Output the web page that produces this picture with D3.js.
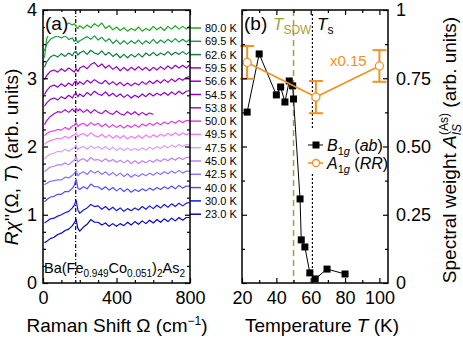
<!DOCTYPE html>
<html>
<head>
<meta charset="utf-8">
<script src="https://cdn.jsdelivr.net/npm/d3@7"></script>
<style>
body { margin: 0; background: #fff; }
svg text { font-family: "Liberation Sans", Arial, Helvetica, sans-serif; }
</style>
</head>
<body>
<div id="chart"></div>
<script>
var shifts = [8, 20, 40, 60, 80, 100, 120, 140, 160, 170, 180, 190, 200, 220, 240, 260, 280, 300, 320, 340, 360, 380,
    400, 420, 440, 460, 480, 500, 520, 540, 560, 580, 600, 620, 640, 660, 680, 700, 720, 740, 760, 780, 800];

var tempLabels = ['80.0 K', '69.5 K', '62.6 K', '59.5 K', '56.6 K', '54.5 K', '53.8 K', '50.0 K',
    '49.5 K', '47.5 K', '45.0 K', '42.5 K', '40.0 K', '30.0 K', '23.0 K'];
var specColors = ['#22a622', '#179a44', '#0d7d3d', '#9600ca', '#9400cc', '#8e00c6', '#a40cd0', '#e03ee6',
    '#f47af4', '#d6a0f8', '#bb80f0', '#8474fc', '#4e4efa', '#1616e0', '#0606c2'];

var spec80 = [3.30, 3.58, 3.70, 3.74, 3.78, 3.80, 3.77, 3.81, 3.78, 3.80, 3.76, 3.73, 3.77, 3.73, 3.78, 3.74, 3.80, 3.76, 3.81, 3.73, 3.77, 3.71,
    3.75, 3.70, 3.74, 3.69, 3.73, 3.70, 3.75, 3.69, 3.73, 3.70, 3.76, 3.71, 3.75, 3.70, 3.76, 3.72, 3.77, 3.72, 3.76, 3.72, 3.77];
var spec69 = [3.40, 3.50, 3.57, 3.60, 3.62, 3.59, 3.62, 3.57, 3.59, 3.54, 3.57, 3.52, 3.55, 3.58, 3.61, 3.57, 3.62, 3.56, 3.60, 3.54, 3.58, 3.51,
    3.56, 3.50, 3.55, 3.50, 3.55, 3.51, 3.56, 3.50, 3.55, 3.51, 3.57, 3.51, 3.56, 3.52, 3.57, 3.53, 3.58, 3.53, 3.57, 3.53, 3.57];
var spec62 = [3.16, 3.24, 3.31, 3.34, 3.31, 3.36, 3.32, 3.37, 3.33, 3.38, 3.39, 3.34, 3.37, 3.40, 3.35, 3.41, 3.37, 3.35, 3.40, 3.34, 3.38, 3.32,
    3.36, 3.30, 3.35, 3.30, 3.35, 3.31, 3.36, 3.31, 3.37, 3.33, 3.38, 3.33, 3.37, 3.34, 3.39, 3.34, 3.38, 3.35, 3.39, 3.35, 3.39];
var spec59 = [2.98, 3.04, 3.10, 3.12, 3.09, 3.14, 3.10, 3.15, 3.11, 3.09, 3.14, 3.10, 3.15, 3.18, 3.14, 3.20, 3.23, 3.17, 3.21, 3.15, 3.19, 3.13,
    3.17, 3.11, 3.16, 3.11, 3.16, 3.12, 3.17, 3.12, 3.16, 3.11, 3.16, 3.12, 3.17, 3.13, 3.18, 3.14, 3.19, 3.15, 3.19, 3.15, 3.20];
var spec56 = [2.76, 2.82, 2.88, 2.90, 2.87, 2.92, 2.88, 2.93, 2.89, 2.94, 2.96, 2.91, 2.95, 2.91, 2.97, 2.93, 2.98, 2.94, 2.92, 2.97, 2.91, 2.95,
    2.90, 2.94, 2.89, 2.93, 2.89, 2.93, 2.90, 2.95, 2.91, 2.96, 2.92, 2.97, 2.93, 2.98, 2.94, 2.99, 2.95, 3.00, 2.97, 3.01, 3.03];
var spec54 = [2.59, 2.64, 2.69, 2.71, 2.68, 2.73, 2.70, 2.75, 2.71, 2.76, 2.78, 2.73, 2.77, 2.73, 2.79, 2.75, 2.81, 2.77, 2.75, 2.80, 2.74, 2.78,
    2.73, 2.77, 2.72, 2.76, 2.71, 2.75, 2.72, 2.77, 2.73, 2.78, 2.74, 2.78, 2.75, 2.79, 2.75, 2.80, 2.76, 2.81, 2.77, 2.81, 2.82];
var spec53 = [2.32, 2.38, 2.44, 2.48, 2.51, 2.50, 2.54, 2.50, 2.55, 2.51, 2.56, 2.52, 2.55, 2.50, 2.54, 2.49, 2.54, 2.50, 2.48, 2.53, 2.49, 2.47,
    2.52, 2.48, 2.46, 2.51, 2.47, 2.51, 2.46, 2.50, 2.46, 2.49, 2.47];
var spec50 = [2.16, 2.19, 2.22, 2.23, 2.25, 2.24, 2.28, 2.25, 2.30, 2.31, 2.35, 2.29, 2.32, 2.34, 2.30, 2.35, 2.31, 2.34, 2.29, 2.33, 2.28, 2.32,
    2.28, 2.31, 2.27, 2.31, 2.28, 2.32, 2.28, 2.33, 2.30, 2.34, 2.31, 2.35, 2.32, 2.36, 2.33, 2.37, 2.34, 2.38, 2.35, 2.38, 2.38];
var spec49 = [2.03, 2.06, 2.09, 2.10, 2.12, 2.11, 2.15, 2.12, 2.16, 2.17, 2.20, 2.14, 2.17, 2.19, 2.15, 2.20, 2.16, 2.14, 2.18, 2.13, 2.17, 2.12,
    2.16, 2.12, 2.16, 2.11, 2.15, 2.12, 2.16, 2.12, 2.17, 2.13, 2.17, 2.14, 2.18, 2.15, 2.19, 2.16, 2.20, 2.16, 2.20, 2.17, 2.20];
var spec47 = [1.81, 1.85, 1.89, 1.90, 1.93, 1.92, 1.96, 1.93, 1.97, 1.98, 2.02, 1.95, 1.98, 2.00, 1.96, 2.01, 1.97, 2.00, 1.96, 2.00, 1.95, 1.99,
    1.94, 1.98, 1.94, 1.98, 1.94, 1.97, 1.94, 1.98, 1.95, 1.99, 1.96, 2.00, 1.97, 2.01, 1.98, 2.02, 1.99, 2.03, 2.00, 2.03, 2.02];
var spec45 = [1.63, 1.66, 1.70, 1.71, 1.73, 1.73, 1.76, 1.73, 1.78, 1.80, 1.85, 1.77, 1.80, 1.82, 1.78, 1.84, 1.80, 1.81, 1.78, 1.82, 1.78, 1.81,
    1.77, 1.80, 1.76, 1.80, 1.75, 1.79, 1.75, 1.79, 1.76, 1.80, 1.77, 1.81, 1.78, 1.82, 1.79, 1.83, 1.80, 1.84, 1.81, 1.84, 1.84];
var spec42 = [1.44, 1.46, 1.49, 1.50, 1.51, 1.51, 1.55, 1.54, 1.58, 1.60, 1.65, 1.57, 1.60, 1.63, 1.59, 1.65, 1.61, 1.64, 1.59, 1.63, 1.58, 1.62,
    1.57, 1.61, 1.56, 1.60, 1.55, 1.59, 1.56, 1.60, 1.57, 1.61, 1.58, 1.62, 1.59, 1.63, 1.60, 1.64, 1.61, 1.65, 1.61, 1.64, 1.64];
var spec40 = [1.19, 1.22, 1.26, 1.27, 1.30, 1.30, 1.34, 1.34, 1.39, 1.43, 1.52, 1.39, 1.37, 1.41, 1.38, 1.45, 1.41, 1.41, 1.37, 1.41, 1.36, 1.40,
    1.35, 1.39, 1.34, 1.38, 1.33, 1.37, 1.34, 1.38, 1.35, 1.39, 1.36, 1.40, 1.37, 1.41, 1.38, 1.42, 1.38, 1.43, 1.39, 1.42, 1.42];
var spec30 = [0.88, 0.90, 0.94, 0.95, 0.98, 1.00, 1.03, 1.05, 1.10, 1.14, 1.21, 1.07, 1.02, 1.07, 1.10, 1.15, 1.12, 1.13, 1.08, 1.12, 1.07, 1.11,
    1.06, 1.10, 1.05, 1.09, 1.06, 1.10, 1.07, 1.12, 1.08, 1.13, 1.09, 1.14, 1.10, 1.15, 1.11, 1.16, 1.12, 1.17, 1.13, 1.17, 1.18];
var spec23 = [0.59, 0.61, 0.65, 0.67, 0.71, 0.73, 0.77, 0.79, 0.84, 0.88, 0.93, 0.80, 0.76, 0.82, 0.86, 0.93, 0.89, 0.89, 0.85, 0.88, 0.83, 0.87,
    0.83, 0.87, 0.84, 0.89, 0.85, 0.90, 0.86, 0.91, 0.87, 0.92, 0.88, 0.93, 0.89, 0.94, 0.90, 0.95, 0.91, 0.96, 0.92, 0.96, 0.96];
var spectra = [spec80, spec69, spec62, spec59, spec56, spec54, spec53, spec50, spec49, spec47, spec45, spec42, spec40, spec30, spec23];

// panel (b)
var b1gTemps = [23, 30, 40, 42.5, 45, 47.5, 49.5, 50, 53.8, 54.5, 56.6, 59.5, 62.6, 69.5, 80];
var b1gWeight = [0.626, 0.839, 0.689, 0.718, 0.663, 0.740, 0.722, 0.674, 0.308, 0.158, 0.132, 0.037, 0.015, 0.051, 0.033];
var a1gTemps = [23, 63, 100];
var a1gWeight = [0.808, 0.681, 0.795];
var a1gErr = [0.060, 0.059, 0.058];

var ramanTicks = [0, 400, 800];
var ramanMinor = [100, 200, 300, 500, 600, 700];
var chiTicks = [0, 1, 2, 3, 4];
var chiMinor = [0.25, 0.5, 0.75, 1.25, 1.5, 1.75, 2.25, 2.5, 2.75, 3.25, 3.5, 3.75];
var tempTicks = [20, 40, 60, 80, 100];
var tempMinor = [30, 50, 70, 90];
var weightTicks = [0, 0.25, 0.5, 0.75, 1];
var weightLabels = ['0', '0.25', '0.50', '0.75', '1'];
var weightMinor = [0.125, 0.375, 0.625, 0.875];

var phononShift = 178;
var tSDW = 50;
var tS = 61;

var w = 463, h = 338;
var orange = '#f39221';
var olive = '#a3a23a';

var svg = d3.select('#chart').append('svg').attr('width', w).attr('height', h);

var xA = d3.scaleLinear().domain([0, 800]).range([43, 190]);
var yA = d3.scaleLinear().domain([0, 4]).range([283, 10]);
var xB = d3.scaleLinear().domain([20, 105]).range([242, 388]);
var yB = d3.scaleLinear().domain([0, 1]).range([283, 10]);

function addAxis(axis, tr, size) {
    var g = svg.append('g').attr('transform', tr).call(axis);
    g.select('.domain').remove();
    g.selectAll('line').attr('stroke', '#000').attr('stroke-width', 1.2);
    g.attr('font-size', size || 18).attr('font-family', '"Liberation Sans", Arial, sans-serif');
    g.selectAll('text').attr('fill', '#000');
    return g;
}

// rich text: parts = [{t, i, s (font size), dy, dx}]
function rich(parent, x, y, parts, opts) {
    opts = opts || {};
    var t = parent.append('text')
        .attr('transform', 'translate(' + x + ',' + y + ')' + (opts.rotate ? ' rotate(' + opts.rotate + ')' : ''))
        .attr('font-size', opts.size || 18)
        .attr('fill', opts.fill || '#000')
        .attr('text-anchor', opts.anchor || 'start');
    parts.forEach(function (p) {
        var s = t.append('tspan').text(p.t);
        if (p.i) s.attr('font-style', 'italic');
        if (p.s) s.attr('font-size', p.s);
        if (p.dy) s.attr('dy', p.dy);
        if (p.dx) s.attr('dx', p.dx);
    });
    return t;
}

// ---------- panel (a) ----------
var line = d3.line()
    .x(function (d, i) { return xA(shifts[i]); })
    .y(function (d) { return yA(d); });

svg.append('line')
    .attr('x1', xA(phononShift)).attr('x2', xA(phononShift))
    .attr('y1', yA(4)).attr('y2', yA(0))
    .attr('stroke', '#000').attr('stroke-width', 1.2)
    .attr('stroke-dasharray', '4,2,1,2');

svg.selectAll('path.spec')
    .data(spectra)
    .enter()
    .append('path')
        .attr('class', 'spec')
        .attr('d', line)
        .attr('fill', 'none')
        .attr('stroke', function (d, i) { return specColors[i]; })
        .attr('stroke-width', 1.2)
        .attr('stroke-linejoin', 'round');

// label lines and texts at the right of panel (a)
var labelTop = 28, labelStep = 13.3;
svg.selectAll('line.lab')
    .data(tempLabels)
    .enter()
    .append('line')
        .attr('class', 'lab')
        .attr('x1', 190).attr('x2', 201)
        .attr('y1', function (d, i) { return labelTop + i * labelStep; })
        .attr('y2', function (d, i) { return labelTop + i * labelStep; })
        .attr('stroke', function (d, i) { return specColors[i]; })
        .attr('stroke-width', 1.5);
svg.selectAll('text.lab')
    .data(tempLabels)
    .enter()
    .append('text')
        .attr('class', 'lab')
        .attr('x', 205)
        .attr('y', function (d, i) { return labelTop + i * labelStep + 4; })
        .attr('font-size', 11)
        .text(function (d) { return d; });

addAxis(d3.axisBottom(xA).tickValues(ramanTicks).tickSize(-5).tickPadding(8).tickFormat(d3.format('d')), 'translate(0,283)');
addAxis(d3.axisBottom(xA).tickValues(ramanMinor).tickSize(-3).tickFormat(''), 'translate(0,283)');
addAxis(d3.axisTop(xA).tickValues(ramanTicks).tickSize(-5).tickFormat(''), 'translate(0,10)');
addAxis(d3.axisTop(xA).tickValues(ramanMinor).tickSize(-3).tickFormat(''), 'translate(0,10)');
addAxis(d3.axisLeft(yA).tickValues(chiTicks).tickSize(-5).tickPadding(6).tickFormat(d3.format('d')), 'translate(43,0)');
addAxis(d3.axisLeft(yA).tickValues(chiMinor).tickSize(-3).tickFormat(''), 'translate(43,0)');
addAxis(d3.axisRight(yA).tickValues(chiTicks).tickSize(-5).tickFormat(''), 'translate(190,0)');
addAxis(d3.axisRight(yA).tickValues(chiMinor).tickSize(-3).tickFormat(''), 'translate(190,0)');

svg.append('rect').attr('x', 43).attr('y', 10).attr('width', 147).attr('height', 273)
    .attr('fill', 'none').attr('stroke', '#000').attr('stroke-width', 1.5);

svg.append('rect').attr('x', 45).attr('y', 12).attr('width', 22).attr('height', 24).attr('fill', '#fff');
svg.append('text').attr('x', 45).attr('y', 30).attr('font-size', 19).text('(a)');

rich(svg, 44, 273, [
    {t: 'Ba(Fe'}, {t: '0.949', s: 10, dy: 4}, {t: 'Co', dy: -4}, {t: '0.051', s: 10, dy: 4},
    {t: ')', dy: -4}, {t: '2', s: 10, dy: 4}, {t: 'As', dy: -4}, {t: '2', s: 10, dy: 4}
], {size: 14.5});

rich(svg, 117, 332, [
    {t: 'Raman Shift Ω (cm'}, {t: '−1', s: 12, dy: -7}, {t: ')', dy: 7}
], {size: 19, anchor: 'middle'});

rich(svg, 18, 157, [
    {t: 'Rχ', i: 1}, {t: "''(Ω, "}, {t: 'T', i: 1}, {t: ') (arb. units)'}
], {size: 19, anchor: 'middle', rotate: -90});

// ---------- panel (b) ----------
svg.append('line')
    .attr('x1', xB(tSDW)).attr('x2', xB(tSDW)).attr('y1', yB(1)).attr('y2', yB(0))
    .attr('stroke', olive).attr('stroke-width', 1.5).attr('stroke-dasharray', '6,4');
svg.append('line')
    .attr('x1', xB(tS)).attr('x2', xB(tS)).attr('y1', 14).attr('y2', yB(0))
    .attr('stroke', '#000').attr('stroke-width', 1.2).attr('stroke-dasharray', '2,2');

var bLine = d3.line().x(function (d, i) { return xB(b1gTemps[i]); }).y(function (d) { return yB(d); });
svg.append('path').attr('d', bLine(b1gWeight)).attr('fill', 'none').attr('stroke', '#000').attr('stroke-width', 1);
svg.selectAll('rect.b1g')
    .data(b1gWeight)
    .enter()
    .append('rect')
        .attr('class', 'b1g')
        .attr('x', function (d, i) { return xB(b1gTemps[i]) - 3.5; })
        .attr('y', function (d) { return yB(d) - 3.5; })
        .attr('width', 7).attr('height', 7)
        .attr('fill', '#000');

var aLine = d3.line().x(function (d, i) { return xB(a1gTemps[i]); }).y(function (d) { return yB(d); });
svg.append('path').attr('d', aLine(a1gWeight)).attr('fill', 'none').attr('stroke', orange).attr('stroke-width', 1.6);
var errs = svg.selectAll('g.err')
    .data(a1gWeight)
    .enter()
    .append('g')
        .attr('class', 'err')
        .attr('stroke', orange).attr('stroke-width', 2);
errs.append('line')
    .attr('x1', function (d, i) { return xB(a1gTemps[i]); })
    .attr('x2', function (d, i) { return xB(a1gTemps[i]); })
    .attr('y1', function (d, i) { return yB(d + a1gErr[i]); })
    .attr('y2', function (d, i) { return yB(d - a1gErr[i]); });
[1, -1].forEach(function (sgn) {
    errs.append('line')
        .attr('x1', function (d, i) { return xB(a1gTemps[i]) - 7; })
        .attr('x2', function (d, i) { return xB(a1gTemps[i]) + 7; })
        .attr('y1', function (d, i) { return yB(d + sgn * a1gErr[i]); })
        .attr('y2', function (d, i) { return yB(d + sgn * a1gErr[i]); });
});
svg.selectAll('circle.a1g')
    .data(a1gWeight)
    .enter()
    .append('circle')
        .attr('class', 'a1g')
        .attr('cx', function (d, i) { return xB(a1gTemps[i]); })
        .attr('cy', function (d) { return yB(d); })
        .attr('r', 4)
        .attr('fill', '#fff').attr('stroke', orange).attr('stroke-width', 1.3);

// legend
svg.append('rect').attr('x', 304).attr('y', 130).attr('width', 80).attr('height', 44).attr('fill', '#fff');
svg.append('line').attr('x1', 308).attr('x2', 323).attr('y1', 145).attr('y2', 145).attr('stroke', '#000');
svg.append('rect').attr('x', 312.5).attr('y', 141.5).attr('width', 7).attr('height', 7).attr('fill', '#000');
rich(svg, 327, 151, [
    {t: 'B', i: 1}, {t: '1', s: 11, dy: 4}, {t: 'g', s: 11, i: 1}, {t: ' (', dy: -4}, {t: 'ab', i: 1}, {t: ')'}
], {size: 16});
svg.append('line').attr('x1', 308).attr('x2', 323).attr('y1', 163).attr('y2', 163).attr('stroke', orange).attr('stroke-width', 1.6);
svg.append('circle').attr('cx', 316).attr('cy', 163).attr('r', 3.5).attr('fill', '#fff').attr('stroke', orange).attr('stroke-width', 1.3);
rich(svg, 327, 169, [
    {t: 'A', i: 1}, {t: '1', s: 11, dy: 4}, {t: 'g', s: 11, i: 1}, {t: ' (', dy: -4}, {t: 'RR', i: 1}, {t: ')'}
], {size: 16});

addAxis(d3.axisBottom(xB).tickValues(tempTicks).tickSize(-5).tickPadding(8).tickFormat(d3.format('d')), 'translate(0,283)');
addAxis(d3.axisBottom(xB).tickValues(tempMinor).tickSize(-3).tickFormat(''), 'translate(0,283)');
addAxis(d3.axisTop(xB).tickValues(tempTicks).tickSize(-5).tickFormat(''), 'translate(0,10)');
addAxis(d3.axisTop(xB).tickValues(tempMinor).tickSize(-3).tickFormat(''), 'translate(0,10)');
addAxis(d3.axisLeft(yB).tickValues(weightTicks).tickSize(-5).tickFormat(''), 'translate(242,0)');
addAxis(d3.axisLeft(yB).tickValues(weightMinor).tickSize(-3).tickFormat(''), 'translate(242,0)');
addAxis(d3.axisRight(yB).tickValues(weightTicks).tickSize(-5).tickPadding(8)
    .tickFormat(function (d, i) { return weightLabels[i]; }), 'translate(388,0)');
addAxis(d3.axisRight(yB).tickValues(weightMinor).tickSize(-3).tickFormat(''), 'translate(388,0)');

svg.append('rect').attr('x', 242).attr('y', 10).attr('width', 146).attr('height', 273)
    .attr('fill', 'none').attr('stroke', '#000').attr('stroke-width', 1.5);

svg.append('text').attr('x', 244).attr('y', 30).attr('font-size', 19).text('(b)');
rich(svg, 273, 30, [{t: 'T', i: 1}, {t: 'SDW', s: 12, dy: 4}], {size: 17, fill: olive});
rich(svg, 317, 30, [{t: 'T', i: 1}, {t: 's', s: 12, dy: 4}], {size: 17});
svg.append('text').attr('x', 330).attr('y', 66).attr('font-size', 15).attr('fill', orange).text('x0.15');

rich(svg, 322, 332, [
    {t: 'Temperature '}, {t: 'T', i: 1}, {t: ' (K)'}
], {size: 19, anchor: 'middle'});

rich(svg, 456, 150, [
    {t: 'Spectral weight '}, {t: 'A', i: 1}, {t: 'IS', i: 1, s: 12, dy: 5},
    {t: '(As)', s: 12, dy: -13, dx: -11}, {t: ' (arb. units)', dy: 8}
], {size: 19, anchor: 'middle', rotate: -90});
</script>
</body>
</html>
